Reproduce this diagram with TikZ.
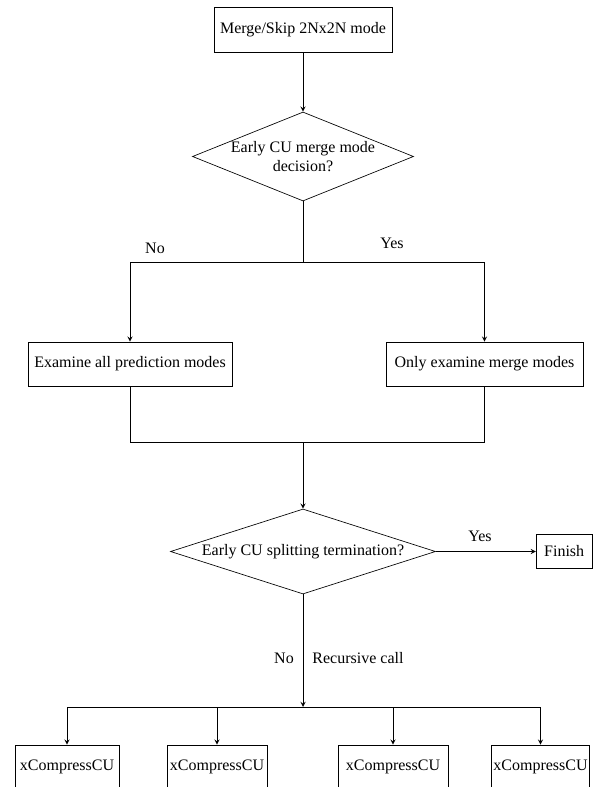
\documentclass[tikz,border=0pt]{standalone}
\usepackage{fontspec}
\setmainfont{Liberation Serif}
\usetikzlibrary{arrows,shapes,positioning}
\tikzstyle{process}=[rectangle,draw=black,thin,inner sep=1pt,align=center,minimum height=26.4pt]
\tikzstyle{decision}=[diamond,draw=black,thin,inner sep=0pt,align=center]
\tikzstyle{answer}=[inner sep=0pt]

\begin{document}
\begin{tikzpicture}[>=stealth,x=0.6pt,y=-0.6pt,font=\fontsize{9.6}{11.5}\selectfont]
    \useasboundingbox (0,0) rectangle (599,787);

    \node[process,minimum width=106.8pt,minimum height=27pt] (merge) at (303,29.5) {Merge/Skip 2Nx2N mode};
    \node[decision,aspect=2.48,inner sep=-6pt,minimum width=132.6pt,minimum height=53.4pt] (early_merge) at (303,156.5) {Early CU merge mode\\decision?};
    \node[process,minimum width=122.4pt] (all_modes) at (130,364) {Examine all prediction modes};
    \node[process,minimum width=118.2pt] (merge_modes) at (484.5,364) {Only examine merge modes};
    \node[decision,aspect=3.12,minimum width=159pt,minimum height=51pt] (early_split) at (303,551.5) {Early CU splitting termination?};
    \node[process,minimum width=33.6pt,minimum height=20.4pt] (finish) [right=60pt of early_split] {Finish};

    \node[process,minimum width=62.4pt] (cu1) at (67,767) {xCompressCU};
    \node[process,minimum width=60pt] (cu2) at (217,767) {xCompressCU};
    \node[process,minimum width=66pt] (cu3) at (393,767) {xCompressCU};
    \node[process,minimum width=58.2pt] (cu4) at (540.5,767) {xCompressCU};

    \coordinate (fork_mode) at (303,262);
    \coordinate (join_mode) at (303,442);
    \coordinate (fork_cu) at (303,707);

    \node[answer] (no_merge) at (155,248) {No};
    \node[answer] (yes_merge) at (392,243) {Yes};
    \node[answer] (yes_split) at (480,536) {Yes};
    \node[answer] (no_split) at (284,658) {No};
    \node[answer] (recursive) at (358,658) {Recursive call};

    \draw[->] (merge) -- (early_merge);
    \draw (early_merge) -- (fork_mode);
    \draw[->] (fork_mode) -| (all_modes);
    \draw[->] (fork_mode) -| (merge_modes);
    \draw (all_modes) |- (join_mode);
    \draw (merge_modes) |- (join_mode);
    \draw[->] (join_mode) -- (early_split);
    \draw[->] (early_split) -- (finish);
    \draw[->] (early_split) -- (fork_cu);
    \foreach \cu in {cu1,cu2,cu3,cu4}
        \draw[->] (fork_cu) -| (\cu);
\end{tikzpicture}
\end{document}
